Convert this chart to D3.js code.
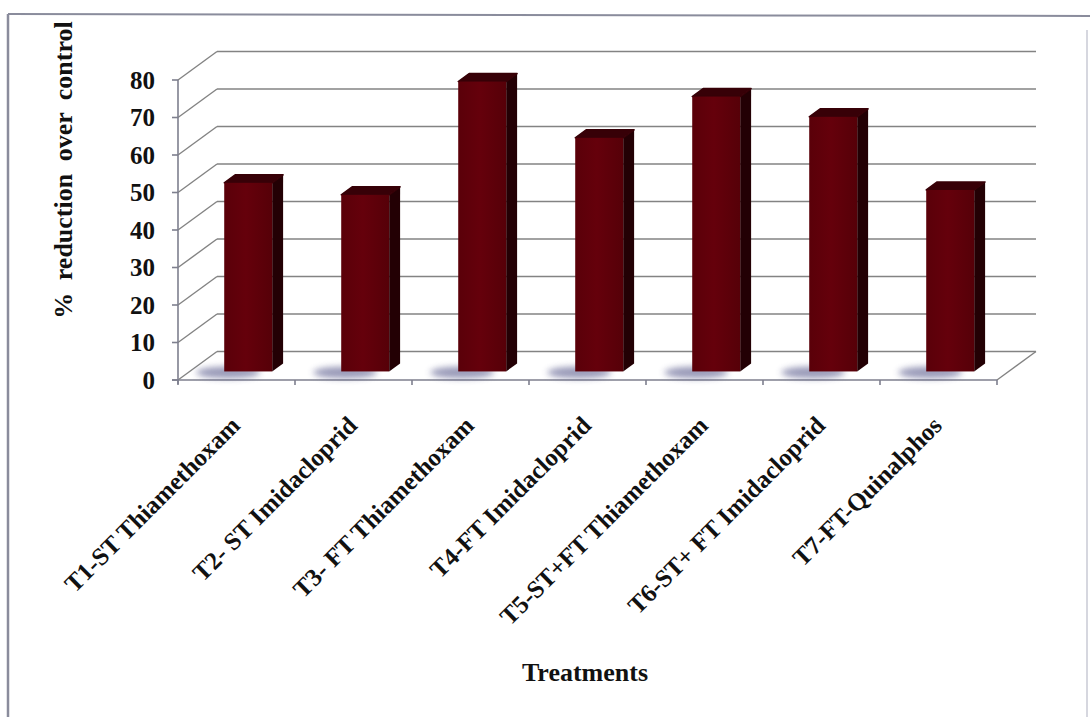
<!DOCTYPE html>
<html>
<head>
<meta charset="utf-8">
<script src="https://cdn.jsdelivr.net/npm/d3@7"></script>
<style>
  html, body { margin: 0; padding: 0; background: #ffffff; }
  svg { display: block; }
  text { font-family: "Liberation Serif", "Times New Roman", serif; font-weight: bold; fill: #111; }
</style>
</head>
<body>
<svg id="chart" width="1090" height="717"></svg>
<script>
// Treatments and their % reduction over control
const categories = [
  "T1-ST Thiamethoxam",
  "T2- ST Imidacloprid",
  "T3- FT Thiamethoxam",
  "T4-FT Imidacloprid",
  "T5-ST+FT Thiamethoxam",
  "T6-ST+ FT Imidacloprid",
  "T7-FT-Quinalphos"
];
const values = [50.3, 47.1, 77.3, 62.3, 73.3, 67.9, 48.4];
const yTicks = [0, 10, 20, 30, 40, 50, 60, 70, 80];
const yTitle = "% reduction over control";
const xTitle = "Treatments";

const svg = d3.select("#chart");

// Front plane scales; the back wall is the same plane shifted by the depth offset
const x = d3.scaleBand().domain(categories).range([178, 997]).paddingInner(0.59).paddingOuter(0.295);
const step = x.step();
const y = d3.scaleLinear().domain([0, 80]).range([380, 80]);
const DX = 39, DY = -28.5;           // full depth of the plot box
const f0 = 0.30, f1 = 0.58;          // depth span occupied by the bars
const dep = f => [DX * f, DY * f];

const defs = svg.append("defs");
const blur = defs.append("filter").attr("id", "soft").attr("x", "-50%").attr("y", "-100%").attr("width", "200%").attr("height", "300%");
blur.append("feGaussianBlur").attr("stdDeviation", 3.2);
const grad = defs.append("linearGradient").attr("id", "front").attr("x1", 0).attr("x2", 1).attr("y1", 0).attr("y2", 0);
grad.append("stop").attr("offset", "0%").attr("stop-color", "#5a0009");
grad.append("stop").attr("offset", "45%").attr("stop-color", "#65000b");
grad.append("stop").attr("offset", "100%").attr("stop-color", "#560008");

// Outer frame
svg.append("line").attr("x1", 8).attr("y1", 14).attr("x2", 8).attr("y2", 717).attr("stroke", "#8a8c9c").attr("stroke-width", 2.5);
svg.append("line").attr("x1", 8).attr("y1", 14).attr("x2", 1090).attr("y2", 16).attr("stroke", "#8a8c9c").attr("stroke-width", 2);
svg.append("line").attr("x1", 1087).attr("y1", 30).attr("x2", 1087).attr("y2", 717).attr("stroke", "#d6d7df").attr("stroke-width", 2);

const grid = svg.append("g").attr("stroke", "#838383").attr("stroke-width", 1.4).attr("fill", "none");
const x0 = x.range()[0], x1 = x.range()[1];

// Back wall gridlines
grid.selectAll(".back").data(yTicks).join("line")
  .attr("x1", x0 + DX).attr("x2", x1 + DX)
  .attr("y1", d => y(d) + DY).attr("y2", d => y(d) + DY);

// Side wall diagonals
grid.selectAll(".side").data(yTicks).join("line")
  .attr("x1", x0).attr("x2", x0 + DX)
  .attr("y1", d => y(d)).attr("y2", d => y(d) + DY);

// Floor right edge
grid.append("line").attr("x1", x1).attr("y1", y(0)).attr("x2", x1 + DX).attr("y2", y(0) + DY);

// Value axis and category axis
const axes = svg.append("g").attr("stroke", "#7e7f8e").attr("stroke-width", 1.6);
axes.append("line").attr("x1", x0).attr("x2", x0).attr("y1", y(80)).attr("y2", y(0) + 4);
axes.selectAll(".yt").data(yTicks).join("line")
  .attr("x1", x0 - 6).attr("x2", x0).attr("y1", d => y(d)).attr("y2", d => y(d));
axes.append("line").attr("x1", x0 - 6).attr("x2", x1).attr("y1", y(0)).attr("y2", y(0));
axes.selectAll(".xt").data(d3.range(categories.length + 1)).join("line")
  .attr("x1", i => x0 + i * step).attr("x2", i => x0 + i * step)
  .attr("y1", y(0)).attr("y2", y(0) + 5);

// Bars: shadow, side face, top face, front face
const bars = svg.append("g").selectAll("g").data(categories).join("g");
bars.append("ellipse")
  .attr("cx", d => x(d) + dep(f0)[0] + 4)
  .attr("cy", y(0) + dep(f0)[1] + 1)
  .attr("rx", 32).attr("ry", 6)
  .attr("fill", "#56588a").attr("opacity", 0.6)
  .attr("filter", "url(#soft)");

const bw = x.bandwidth();
bars.append("path")
  .attr("fill", "#230004")
  .attr("d", (d, i) => {
    const [a, b] = dep(f0), [c, e] = dep(f1);
    const xr = x(d) + bw;
    return `M${xr + a},${y(values[i]) + b} L${xr + c},${y(values[i]) + e} L${xr + c},${y(0) + e} L${xr + a},${y(0) + b} Z`;
  });
bars.append("path")
  .attr("fill", "#370007")
  .attr("stroke", "#370007").attr("stroke-width", 1.5).attr("stroke-linejoin", "round")
  .attr("d", (d, i) => {
    const [a, b] = dep(f0), [c, e] = dep(f1);
    const xl = x(d), xr = x(d) + bw, yt = y(values[i]);
    return `M${xl + a},${yt + b} L${xl + c},${yt + e} L${xr + c},${yt + e} L${xr + a},${yt + b} Z`;
  });
bars.append("rect")
  .attr("x", d => x(d) + dep(f0)[0])
  .attr("y", (d, i) => y(values[i]) + dep(f0)[1])
  .attr("width", bw)
  .attr("height", (d, i) => y(0) - y(values[i]))
  .attr("fill", "url(#front)");

// Tick labels
svg.append("g").selectAll("text").data(yTicks).join("text")
  .attr("x", 155).attr("y", d => y(d)).attr("dy", "0.35em")
  .attr("text-anchor", "end").style("font-size", "25px")
  .text(d => d);

// Category labels
svg.append("g").selectAll("text").data(categories).join("text")
  .attr("transform", d => `translate(${x(d) + bw / 2 + 5},${427}) rotate(-45)`)
  .attr("text-anchor", "end").style("font-size", "25px")
  .text(d => d);

// Axis titles
svg.append("text")
  .attr("transform", "translate(72,170) rotate(-90)")
  .attr("text-anchor", "middle").style("font-size", "26px").style("word-spacing", "6px")
  .text(yTitle);
svg.append("text")
  .attr("x", 585).attr("y", 681)
  .attr("text-anchor", "middle").style("font-size", "26px")
  .text(xTitle);
</script>
</body>
</html>
